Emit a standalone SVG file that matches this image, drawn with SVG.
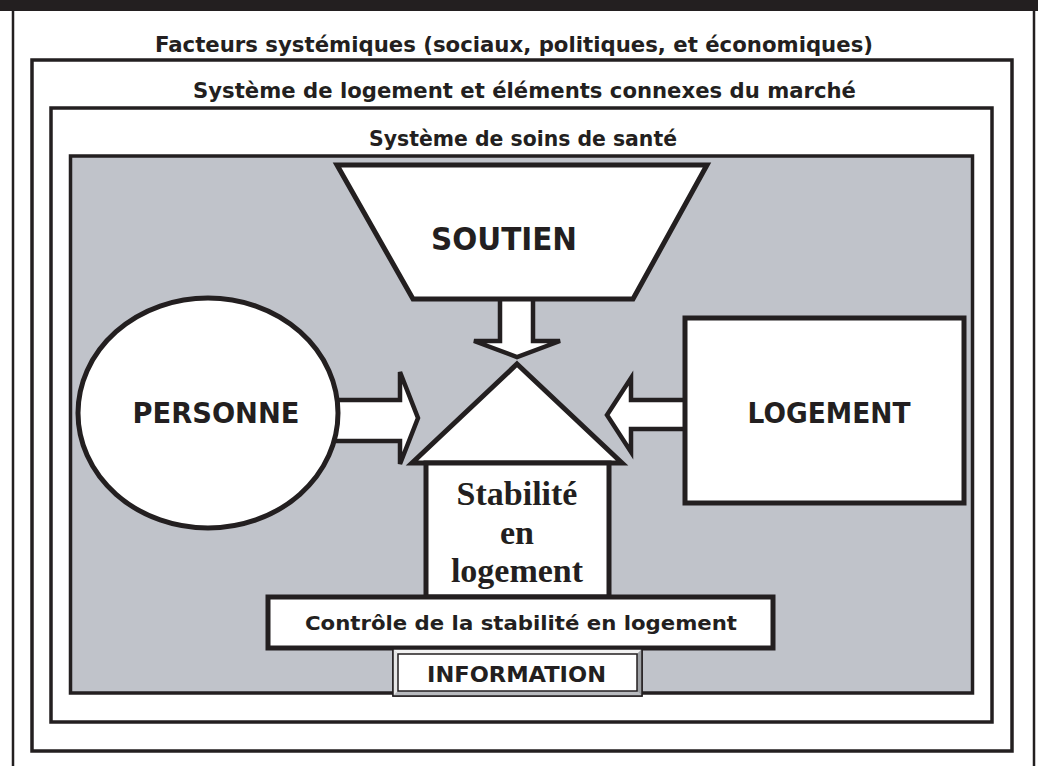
<svg xmlns="http://www.w3.org/2000/svg" width="1038" height="766" viewBox="0 0 1038 766">
<style>
.ln{fill:none;stroke:#231f20}
.frame{fill:none;stroke:#231f20;stroke-width:3.5}
.shape{fill:#ffffff;stroke:#231f20;stroke-width:5;stroke-linejoin:miter}
.arrow{fill:#ffffff;stroke:#231f20;stroke-width:4.5;stroke-linejoin:miter}
.t{font-family:"DejaVu Sans",Verdana,sans-serif;font-weight:bold;fill:#231f20;text-anchor:middle}
.s{font-family:"Liberation Serif","Times New Roman",serif;font-weight:bold;fill:#231f20;text-anchor:middle}
</style>
<rect x="0" y="0" width="1038" height="11" fill="#231f20"/>
<g id="outer">
<line class="ln" x1="13" y1="10" x2="13" y2="766" stroke-width="2.5"/>
<line class="ln" x1="1034" y1="10" x2="1034" y2="766" stroke-width="2.5"/>
</g>
<g id="facteurs">
<rect class="frame" x="32" y="60" width="980" height="691" fill="#ffffff"/>
<text class="t" x="514" y="52" font-size="20.5" textLength="718" lengthAdjust="spacingAndGlyphs">Facteurs systémiques (sociaux, politiques, et économiques)</text>
</g>
<g id="logement-systeme">
<rect class="frame" x="51" y="108" width="941" height="614"/>
<text class="t" x="524.5" y="98" font-size="20.5" textLength="663" lengthAdjust="spacingAndGlyphs">Système de logement et éléments connexes du marché</text>
</g>
<g id="soins">
<rect x="70.5" y="156" width="902" height="537" fill="#c0c3ca" stroke="#231f20" stroke-width="3.5"/>
<text class="t" x="523" y="146" font-size="20.5" textLength="308" lengthAdjust="spacingAndGlyphs">Système de soins de santé</text>
</g>
<g id="connectors">
<polygon class="arrow" points="500,295 500,341 474,341 517,357 560,341 533,341 533,295"/>
<polygon class="arrow" points="320,400 400,400 400,372 418,418 400,464 400,441 320,441"/>
<polygon class="arrow" points="688,400 631,400 631,378 607,415 631,452 631,429 688,429"/>
</g>
<g id="soutien">
<polygon class="shape" points="337,165 707,165 633,299 413,299"/>
<text class="t" x="504" y="250" font-size="32" textLength="146" lengthAdjust="spacingAndGlyphs">SOUTIEN</text>
</g>
<g id="personne">
<ellipse class="shape" cx="208" cy="413" rx="130" ry="115"/>
<text class="t" x="216" y="423" font-size="29" textLength="167" lengthAdjust="spacingAndGlyphs">PERSONNE</text>
</g>
<g id="logement">
<rect class="shape" x="685" y="318" width="279" height="185"/>
<text class="t" x="829" y="423" font-size="29" textLength="163" lengthAdjust="spacingAndGlyphs">LOGEMENT</text>
</g>
<g id="stabilite">
<polygon class="shape" points="517,364 622,463 412,463"/>
<rect class="shape" x="426" y="463" width="183" height="134"/>
<text class="s" x="517" y="505" font-size="34">Stabilité</text>
<text class="s" x="517" y="544" font-size="34">en</text>
<text class="s" x="517" y="582" font-size="34">logement</text>
</g>
<g id="controle">
<rect class="shape" x="268" y="597" width="505" height="51"/>
<text class="t" x="521" y="630" font-size="20" textLength="432" lengthAdjust="spacingAndGlyphs">Contrôle de la stabilité en logement</text>
</g>
<g id="information">
<rect x="393" y="649" width="249" height="47" fill="#c8cacd" stroke="#231f20" stroke-width="1.5"/>
<polygon points="393,649 642,649 637,654 398,654" fill="#f2f2f2"/>
<polygon points="393,649 398,654 398,691 393,696" fill="#e6e6e6"/>
<polygon points="642,649 637,654 637,691 642,696" fill="#9ea1a5"/>
<polygon points="393,696 398,691 637,691 642,696" fill="#b8babe"/>
<rect x="393" y="649" width="249" height="47" fill="none" stroke="#231f20" stroke-width="1.5"/>
<rect x="398" y="654" width="239" height="37" fill="#ffffff" stroke="#231f20" stroke-width="1.5"/>
<text class="t" x="516.5" y="682" font-size="20.5" textLength="179" lengthAdjust="spacingAndGlyphs">INFORMATION</text>
</g>
</svg>
